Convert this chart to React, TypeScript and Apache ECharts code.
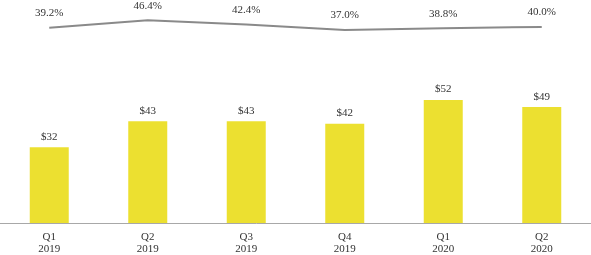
import React, { useEffect, useRef } from "react";
import * as echarts from "echarts";

const categories = ["Q1\n2019", "Q2\n2019", "Q3\n2019", "Q4\n2019", "Q1\n2020", "Q2\n2020"];
const revenue = [32, 43, 43, 42, 52, 49];
const margin = [39.2, 46.4, 42.4, 37.0, 38.8, 40.0];

const FONT = "'Liberation Serif', 'Times New Roman', serif";
const TEXT = "#333333";

export default function App() {
  const ref = useRef<HTMLDivElement>(null);
  useEffect(() => {
    if (!ref.current) return;
    const chart = echarts.init(ref.current, undefined, { renderer: "svg" });
    chart.setOption({
      animation: false,
      textStyle: { fontFamily: FONT },
      grid: [
        { left: 0, right: 0, top: 10.1, bottom: 32 },
        { left: 0, right: 0, top: 16.6, height: 20.6 },
      ],
      xAxis: [
        {
          type: "category",
          gridIndex: 0,
          data: categories,
          axisLine: { lineStyle: { color: "#a8a8a8", width: 1 } },
          axisTick: { show: false },
          axisLabel: { color: TEXT, fontSize: 11, lineHeight: 12, margin: 7, fontFamily: FONT },
        },
        {
          type: "category",
          gridIndex: 1,
          data: categories,
          show: false,
        },
      ],
      yAxis: [
        { type: "value", gridIndex: 0, min: 0, max: 90, show: false },
        { type: "value", gridIndex: 1, min: 30, max: 50, show: false },
      ],
      series: [
        {
          type: "bar",
          xAxisIndex: 0,
          yAxisIndex: 0,
          data: revenue,
          barWidth: 39,
          itemStyle: { color: "#ECE030" },
          label: {
            show: true,
            position: "top",
            distance: 6,
            color: TEXT,
            fontSize: 11,
            fontFamily: FONT,
            formatter: (p: any) => "$" + p.value,
          },
        },
        {
          type: "line",
          xAxisIndex: 1,
          yAxisIndex: 1,
          data: margin,
          clip: false,
          symbol: "circle",
          symbolSize: 2,
          showSymbol: true,
          itemStyle: { color: "rgba(0,0,0,0)", borderWidth: 0 },
          lineStyle: { color: "#8a8a8a", width: 2 },
          label: {
            show: true,
            position: "top",
            distance: 9,
            color: TEXT,
            fontSize: 11,
            fontFamily: FONT,
            formatter: (p: any) => Number(p.value).toFixed(1) + "%",
          },
        },
      ],
    });
    return () => chart.dispose();
  }, []);
  return (
    <div
      ref={ref}
      style={{ position: "fixed", left: 0, top: 0, width: 591, height: 255 }}
    />
  );
}
